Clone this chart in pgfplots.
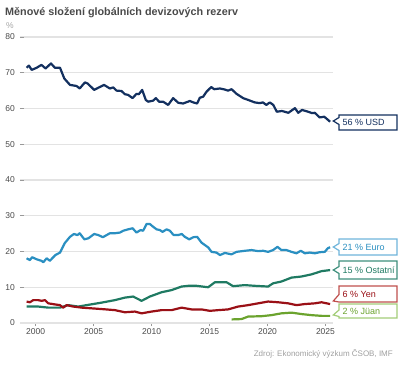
\documentclass[border=0pt]{standalone}
\usepackage{pgfplots}
\pgfplotsset{compat=1.18}
\usepackage{fontspec}
\setmainfont{Liberation Sans}
\definecolor{usd}{HTML}{13305F}
\definecolor{eur}{HTML}{2A8FC1}
\definecolor{oth}{HTML}{1F7A62}
\definecolor{yen}{HTML}{9A1016}
\definecolor{cny}{HTML}{6BA32E}
\definecolor{eurb}{HTML}{6FB5DB}
\definecolor{othb}{HTML}{3E8F7C}
\definecolor{yenb}{HTML}{C0504D}
\definecolor{cnyb}{HTML}{A3CD78}
\definecolor{lab}{HTML}{4A4A4A}
\definecolor{gridc}{HTML}{E3E3E3}
\begin{document}
\begin{tikzpicture}
\begin{axis}[
  at={(0,0)}, anchor=south west,
  scale only axis, width=313pt, height=286pt,
  xmin=1998.65, xmax=2025.65, ymin=0, ymax=80,
  ytick={0,10,...,80}, xtick={2000,2005,...,2025},
  tick pos=left,
  ymajorgrids, major grid style={gridc, line width=1.3pt},
  axis line style={draw=none},
  /pgf/number format/assume math mode=true,
  /pgf/number format/1000 sep={},
  ytick style={draw=gray!80, line width=0.9pt},
  xtick style={draw=gray!80, line width=0.9pt},
  y tick label style={font=\fontsize{8.5}{10}\selectfont, text=lab, inner sep=0pt, xshift=-5pt},
  x tick label style={font=\fontsize{8.5}{10}\selectfont, text=lab, inner sep=0pt, yshift=-5.5pt},
  tick align=inside, major tick length=4pt,
  x tick style={yshift=-3pt},
  clip=false,
  every axis plot/.append style={line width=2.2pt, line join=round, mark=none},
]
\addplot[gridc, line width=1.3pt, forget plot] coordinates {(1998.65,0) (2025.65,0)};
% USD
\addplot[usd] coordinates {
(1999.22,71.4)(1999.42,72.0)(1999.66,70.8)(2000.09,71.4)(2000.5,72.2)(2000.86,71.2)
(2001.32,72.6)(2001.66,71.4)(2002.1,71.4)(2002.47,68.4)(2002.96,66.6)(2003.53,66.3)
(2003.8,65.6)(2004.25,67.3)(2004.48,67.0)(2005.05,65.2)(2005.4,65.8)(2005.9,66.6)
(2006.4,65.6)(2006.7,65.9)(2006.98,65.0)(2007.4,64.9)(2007.7,64.0)(2007.98,63.8)
(2008.36,62.9)(2008.7,64.1)(2008.9,64.0)(2009.19,65.2)(2009.5,62.4)(2009.7,61.9)
(2010.14,62.2)(2010.37,62.9)(2010.65,61.9)(2011.0,61.9)(2011.43,61.0)(2011.86,62.9)
(2012.3,61.6)(2012.72,61.4)(2013.3,62.1)(2013.6,61.7)(2013.93,61.4)(2014.16,63.0)
(2014.45,63.3)(2014.74,64.7)(2015.15,66.0)(2015.4,65.4)(2015.89,65.6)(2016.32,65.3)
(2016.6,65.0)(2016.9,65.4)(2017.33,64.1)(2017.9,62.9)(2018.33,62.4)(2018.9,61.7)
(2019.34,61.5)(2019.6,61.7)(2019.9,61.0)(2020.2,61.7)(2020.5,61.0)(2020.8,59.1)
(2021.25,59.3)(2021.8,58.8)(2022.37,60.1)(2022.65,58.8)(2022.98,59.6)(2023.5,59.1)
(2023.85,58.7)(2024.08,58.8)(2024.5,57.5)(2024.9,57.7)(2025.4,56.3)};
% Euro
\addplot[eur] coordinates {
(1999.22,18.1)(1999.5,17.6)(1999.7,18.4)(2000.1,17.8)(2000.5,17.4)(2000.66,17.0)
(2000.95,18.1)(2001.23,17.4)(2001.43,18.1)(2001.7,19.0)(2002.1,19.7)(2002.5,22.3)
(2002.96,24.1)(2003.3,24.9)(2003.6,24.6)(2003.8,25.1)(2004.2,23.4)(2004.55,23.7)
(2005.05,24.9)(2005.4,24.6)(2005.8,24.0)(2006.4,25.1)(2006.83,25.1)(2007.27,25.3)
(2007.55,25.8)(2007.98,26.2)(2008.36,26.5)(2008.7,25.3)(2009.05,26.0)(2009.27,25.8)
(2009.57,27.7)(2009.85,27.7)(2010.14,26.9)(2010.43,26.2)(2010.71,26.0)(2010.95,25.5)
(2011.3,26.2)(2011.58,25.8)(2011.9,24.6)(2012.3,24.6)(2012.6,24.9)(2012.87,24.1)
(2013.25,23.4)(2013.6,24.0)(2013.93,24.1)(2014.3,22.5)(2014.6,21.8)(2014.9,21.1)
(2015.17,19.9)(2015.6,19.7)(2015.9,19.0)(2016.32,19.6)(2016.9,19.2)(2017.33,19.9)
(2018.05,20.2)(2018.62,20.4)(2019.2,20.1)(2019.62,20.2)(2020.05,19.9)(2020.48,20.4)
(2020.86,21.3)(2021.2,20.4)(2021.64,20.4)(2022.07,19.9)(2022.5,19.5)(2022.87,20.2)
(2023.22,19.5)(2023.65,19.7)(2024.08,19.5)(2024.5,19.8)(2024.94,19.9)(2025.2,20.9)
(2025.4,21.2)};
% Ostatni
\addplot[oth] coordinates {
(1999.22,4.6)(2000.22,4.6)(2001.09,4.3)(2002.09,4.3)(2002.81,5.0)(2003.67,4.6)
(2004.4,5.0)(2005.69,5.7)(2006.84,6.4)(2007.7,7.1)(2008.41,7.4)(2009.14,6.2)
(2009.85,7.4)(2010.86,8.6)(2011.72,9.2)(2012.59,10.2)(2013.16,10.4)(2013.88,10.4)
(2014.88,10.0)(2015.46,11.4)(2016.47,11.4)(2017.03,10.3)(2018.04,10.6)(2018.9,10.4)
(2020.05,10.2)(2020.48,11.1)(2021.2,11.6)(2022.07,12.7)(2022.93,13.0)(2023.79,13.6)
(2024.66,14.5)(2025.4,14.8)};
% Yen
\addplot[yen] coordinates {
(1999.22,6.0)(1999.51,5.8)(1999.79,6.4)(2000.22,6.4)(2000.52,6.2)(2000.8,6.4)
(2001.09,5.5)(2001.66,5.2)(2002.09,5.0)(2002.38,4.3)(2002.67,5.0)(2003.24,4.6)
(2003.97,4.3)(2004.83,4.1)(2005.69,3.9)(2006.84,3.6)(2007.7,3.0)(2008.56,3.2)
(2009.14,2.7)(2010.0,3.2)(2010.86,3.6)(2011.72,3.6)(2012.59,4.3)(2013.45,3.8)
(2014.31,3.8)(2015.03,3.4)(2015.74,3.6)(2016.6,3.8)(2017.47,4.6)(2018.33,5.0)
(2019.19,5.5)(2020.05,6.0)(2020.91,5.8)(2021.78,5.5)(2022.5,5.0)(2023.22,5.3)
(2024.08,5.5)(2024.66,5.8)(2025.4,5.3)};
% Juan
\addplot[cny] coordinates {
(2016.9,1.0)(2017.76,1.1)(2018.33,1.8)(2019.48,1.9)(2020.34,2.2)(2021.2,2.7)
(2022.07,2.9)(2022.93,2.5)(2023.79,2.2)(2024.66,2.0)(2025.4,2.0)};
\end{axis}
\begin{scope}[shift={(-20pt,323pt)}, x=1pt, y=-1pt]
  \node[anchor=base west, inner sep=0pt, text=lab, font=\fontsize{10.8}{13}\selectfont\bfseries] at (5,16) {Měnové složení globálních devizových rezerv};
  \node[anchor=base west, inner sep=0pt, text=gray!70, font=\fontsize{8.5}{10}\selectfont] at (6,28.5) {\%};
  \node[anchor=base east, inner sep=0pt, text=gray!75, font=\fontsize{8}{10}\selectfont] at (393,356) {Zdroj: Ekonomický výzkum ČSOB, IMF};
  \tikzset{cbox/.style={line width=1.2pt, fill=white, line join=miter}, ctext/.style={anchor=west, inner sep=0pt, font=\fontsize{9}{11}\selectfont}}
  % USD
  \draw[cbox, draw=usd] (339,115)--(397,115)--(397,130)--(339,130)--(339,124.5)--(333.3,121)--(339,117.5)--cycle;
  \node[ctext, text=usd] at (342.5,122.5) {56 \% USD};
  % Euro
  \draw[cbox, draw=eurb] (339,239)--(397,239)--(397,255)--(339,255)--(339,250.5)--(333.3,247)--(339,243.5)--cycle;
  \node[ctext, text=eur] at (342.5,247) {21 \% Euro};
  % Ostatni
  \draw[cbox, draw=othb] (339,261)--(397,261)--(397,279)--(339,279)--(339,273.5)--(333.3,270)--(339,266.5)--cycle;
  \node[ctext, text=oth] at (342.5,270) {15 \% Ostatní};
  % Yen
  \draw[cbox, draw=yenb] (339,286)--(397,286)--(397,302)--(339,302)--(333.3,301)--(339,294.5)--cycle;
  \node[ctext, text=yen] at (342.5,294) {6 \% Yen};
  % Juan
  \draw[cbox, draw=cnyb] (339,304)--(397,304)--(397,318)--(339,318)--(339,316.5)--(333.3,315)--(339,310)--cycle;
  \node[ctext, text=cny] at (342.5,311) {2 \% Jüan};
\end{scope}
\pgfresetboundingbox
\path (-20pt,-44pt) rectangle (384pt,323pt);
\end{tikzpicture}
\end{document}
